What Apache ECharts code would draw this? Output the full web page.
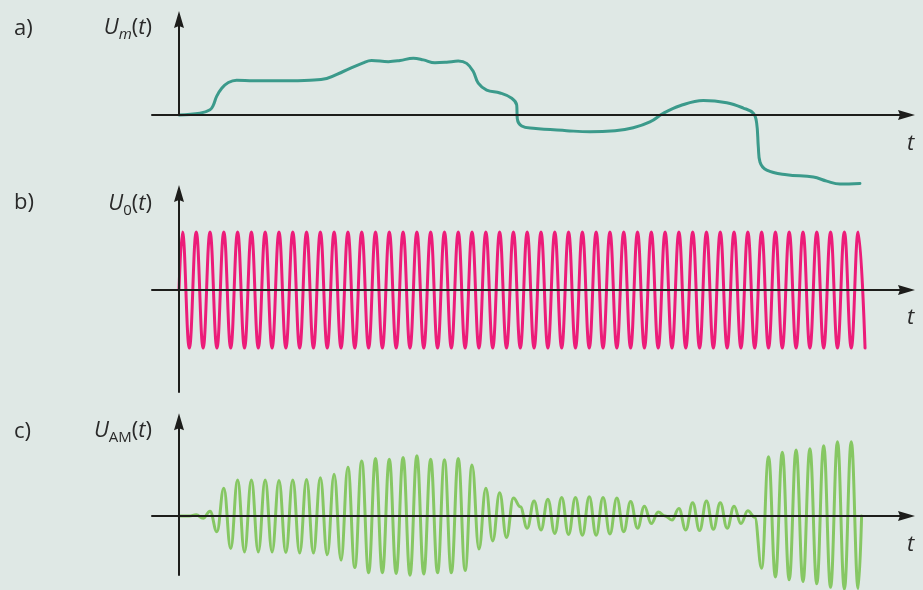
<!DOCTYPE html>
<html>
<head>
<meta charset="utf-8">
<script src="https://cdn.jsdelivr.net/npm/echarts@6/dist/echarts.min.js"></script>
<style>
  html, body { margin: 0; padding: 0; background: #dfe8e5; }
  #chart { width: 923px; height: 590px; }
</style>
</head>
<body>
<div id="chart"></div>
<script>
// a) modulating signal U_m(t): time in carrier periods, amplitude in carrier units
const umTime = [0, 1.52, 2.25, 2.49, 2.73, 3.10, 3.58, 4.18, 5.39, 7.56,
  9.50, 10.71, 11.91, 13.36, 13.97, 15.18, 16.03, 16.99, 17.72, 18.56,
  19.41, 20.25, 20.86, 21.34, 21.70, 22.31, 23.28, 24.13, 24.49, 24.53,
  24.85, 25.69, 28.11, 29.80, 31.62, 32.94, 34.15, 35.12, 36.33, 38.02,
  39.72, 40.92, 41.65, 41.89, 42.01, 42.13, 42.62, 44.07, 46.00, 46.97,
  47.93, 49.38];
const umValue = [0, 0.03, 0.09, 0.17, 0.32, 0.46, 0.56, 0.60, 0.59, 0.59,
  0.60, 0.63, 0.75, 0.90, 0.94, 0.92, 0.94, 0.98, 0.95, 0.90,
  0.91, 0.93, 0.89, 0.75, 0.55, 0.43, 0.38, 0.29, 0.17, -0.06,
  -0.19, -0.23, -0.27, -0.29, -0.27, -0.22, -0.12, 0.03, 0.16, 0.25,
  0.21, 0.12, 0.03, -0.14, -0.55, -0.81, -0.95, -1.03, -1.07, -1.14,
  -1.19, -1.18];

// b) carrier U_0(t): value at every crest and trough (half-period steps)
const carrierExtremes = [
  1, -1, 1, -1, 1, -1, 1, -1, 1, -1,
  1, -1, 1, -1, 1, -1, 1, -1, 1, -1,
  1, -1, 1, -1, 1, -1, 1, -1, 1, -1,
  1, -1, 1, -1, 1, -1, 1, -1, 1, -1,
  1, -1, 1, -1, 1, -1, 1, -1, 1, -1,
  1, -1, 1, -1, 1, -1, 1, -1, 1, -1,
  1, -1, 1, -1, 1, -1, 1, -1, 1, -1,
  1, -1, 1, -1, 1, -1, 1, -1, 1, -1,
  1, -1, 1, -1, 1, -1, 1, -1, 1, -1,
  1, -1, 1, -1, 1, -1, 1, -1, 1, -1
];

// c) AM signal U_AM(t): value at the same crest/trough instants
const amExtremes = [
  0, 0, 0.02, -0.04, 0.08, -0.27, 0.48, -0.56, 0.62, -0.62,
  0.62, -0.62, 0.62, -0.62, 0.61, -0.63, 0.62, -0.64, 0.63, -0.64,
  0.66, -0.67, 0.72, -0.76, 0.84, -0.89, 0.95, -0.98, 0.99, -0.98,
  0.98, -0.99, 1.01, -1.02, 1.04, -1.00, 0.98, -0.98, 0.97, -0.98,
  0.99, -0.94, 0.88, -0.57, 0.48, -0.43, 0.40, -0.37, 0.31, 0.16,
  -0.21, 0.26, -0.24, 0.29, -0.30, 0.32, -0.32, 0.32, -0.33, 0.33,
  -0.33, 0.32, -0.31, 0.31, -0.27, 0.25, -0.21, 0.17, -0.13, 0.07,
  0, -0.07, 0.13, -0.24, 0.23, -0.25, 0.26, -0.23, 0.23, -0.21,
  0.17, -0.13, 0.09, -0.02, -0.90, 1.02, -1.05, 1.10, -1.10, 1.14,
  -1.13, 1.16, -1.17, 1.21, -1.23, 1.28, -1.26, 1.28, -1.25
];
const carrierStart = [0, 0];
const amStart = [0, 0];
const amEnd = [49.5, 0];

// panel labels
const panelLetters = ['a)', 'b)', 'c)'];
const axisTitles = ['{i|U}{si|m}{r|(}{i|t}{r|)}', '{i|U}{s|0}{r|(}{i|t}{r|)}', '{i|U}{s|AM}{r|(}{i|t}{r|)}'];
const timeLabel = 't';

// ---- layout ----
const ORIGIN_X = 179;          // pixel column of the vertical axes
const PX_PER_PERIOD = 13.79;   // horizontal pixels per carrier period
const PX_PER_UNIT = 58;        // vertical pixels per carrier amplitude
const AXIS_LEFT = 152;
const AXIS_END = 906.5;        // centre of the arrow head
const panels = [
  { top: 19.5, zero: 115, bottom: 115, letterY: 28.5, titleY: 35, tY: 143.5 },
  { top: 193.5, zero: 290, bottom: 392, letterY: 203, titleY: 210.5, tY: 317.5 },
  { top: 421.8, zero: 516, bottom: 575, letterY: 431.5, titleY: 438, tY: 544.5 }
];
const COLORS = { bg: '#dfe8e5', axis: '#1d1d1b', text: '#2a2a2a', um: '#3b9a8b', carrier: '#ec1c79', am: '#86c763' };
const FONT = "'Open Sans', 'Noto Sans', sans-serif";
const ARROW = 'path://M5,0 L10,17 L5,15 L0,17 Z';

const tMin = (AXIS_LEFT - ORIGIN_X) / PX_PER_PERIOD;
const tMax = (AXIS_END - ORIGIN_X) / PX_PER_PERIOD;

const extremeTime = j => 0.25 + 0.5 * j;
const umData = umTime.map((t, i) => [t, umValue[i]]);
const carrierData = [carrierStart].concat(carrierExtremes.map((v, j) => [extremeTime(j), v]));
const amData = [amStart].concat(amExtremes.map((v, j) => [extremeTime(j), v]), [amEnd]);

const axisLine = {
  show: true,
  onZero: true,
  symbol: ['none', ARROW],
  symbolSize: [10, 17],
  lineStyle: { color: COLORS.axis, width: 2 }
};

const grids = panels.map(p => ({
  left: AXIS_LEFT, width: AXIS_END - AXIS_LEFT, top: p.top, height: p.bottom - p.top, containLabel: false
}));
const xAxes = panels.map((p, i) => ({
  type: 'value', gridIndex: i, min: tMin, max: tMax, z: 5,
  axisLine, axisTick: { show: false }, axisLabel: { show: false }, splitLine: { show: false }
}));
const yAxes = panels.map((p, i) => ({
  type: 'value', gridIndex: i,
  min: -(p.bottom - p.zero) / PX_PER_UNIT, max: (p.zero - p.top) / PX_PER_UNIT, z: 5,
  axisLine, axisTick: { show: false }, axisLabel: { show: false }, splitLine: { show: false }
}));

const lineSeries = (idx, data, color, smooth, mono) => ({
  type: 'line', xAxisIndex: idx, yAxisIndex: idx, data,
  smooth, smoothMonotone: mono, showSymbol: false, symbol: 'none', clip: false,
  lineStyle: { color, width: 3, cap: 'round', join: 'round' }, z: 2, silent: true
});

const rich = {
  i: { fontFamily: FONT, fontSize: 22, fontStyle: 'italic', lineHeight: 24, verticalAlign: 'top', fill: COLORS.text },
  r: { fontFamily: FONT, fontSize: 22, lineHeight: 24, verticalAlign: 'top', fill: COLORS.text },
  si: { fontFamily: FONT, fontSize: 15, fontStyle: 'italic', lineHeight: 36, verticalAlign: 'middle', fill: COLORS.text },
  s: { fontFamily: FONT, fontSize: 15, lineHeight: 36, verticalAlign: 'middle', fill: COLORS.text }
};

const graphics = [];
panels.forEach((p, i) => {
  graphics.push({ type: 'text', x: 14, y: p.letterY, silent: true,
    style: { text: panelLetters[i], fontFamily: FONT, fontSize: 22, fill: COLORS.text, align: 'left', verticalAlign: 'middle' } });
  graphics.push({ type: 'text', x: 152, y: p.titleY, silent: true,
    style: { text: axisTitles[i], rich, fontFamily: FONT, fontSize: 22, fill: COLORS.text, align: 'right', verticalAlign: 'middle' } });
  graphics.push({ type: 'text', x: 907, y: p.tY, silent: true,
    style: { text: timeLabel, fontFamily: FONT, fontSize: 22, fontStyle: 'italic', fill: COLORS.text, align: 'left', verticalAlign: 'middle' } });
});

const chart = echarts.init(document.getElementById('chart'), null, { renderer: 'canvas' });
chart.setOption({
  backgroundColor: COLORS.bg,
  animation: false,
  grid: grids,
  xAxis: xAxes,
  yAxis: yAxes,
  series: [
    lineSeries(0, umData, COLORS.um, 0.4, undefined),
    lineSeries(1, carrierData, COLORS.carrier, 0.42, 'x'),
    lineSeries(2, amData, COLORS.am, 0.42, 'x')
  ],
  graphic: graphics
});
</script>
</body>
</html>
